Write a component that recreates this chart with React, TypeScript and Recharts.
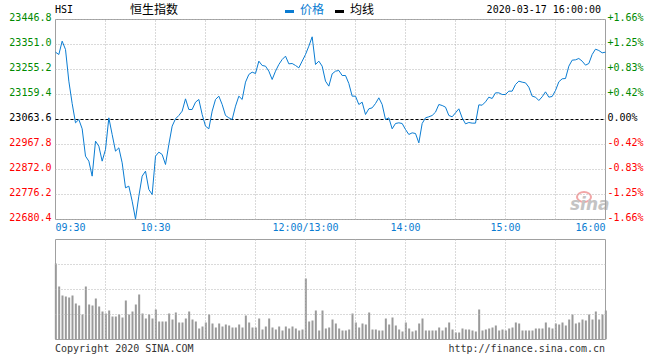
import React from "react"
import {
  ComposedChart,
  Line,
  BarChart,
  Bar,
  XAxis,
  YAxis,
  ReferenceLine,
  ReferenceArea,
} from "recharts"

// HSI intraday, 2020-03-17, sampled every 2 minutes (index 0..330 = 09:30..12:00 + 13:00..16:00)
const price = [
  23321.6, 23312.7, 23363.8, 23331.9, 23210.5, 23124.9, 23050.9, 23063.6, 23027.9, 22923.1,
  22904.0, 22846.5, 22980.6, 22961.4, 22904.0, 22948.7, 23070.0, 23006.0, 22942.3, 22955.0,
  22897.6, 22801.8, 22808.2, 22750.7, 22682.0, 22769.9, 22846.5, 22865.6, 22795.4, 22776.2,
  22923.1, 22938.5, 22929.5, 22891.2, 22967.8, 23038.1, 23066.2, 23079.0, 23095.6, 23142.8,
  23102.0, 23102.0, 23130.0, 23140.3, 23082.8, 23038.1, 23027.9, 23095.6, 23140.3, 23153.0,
  23121.1, 23079.0, 23070.0, 23063.6, 23114.7, 23153.0, 23140.3, 23206.7, 23236.1, 23245.0,
  23239.9, 23287.2, 23270.6, 23268.0, 23248.8, 23216.9, 23248.8, 23274.4, 23293.5, 23306.3,
  23276.9, 23278.2, 23270.6, 23261.6, 23287.2, 23312.7, 23344.6, 23380.4, 23274.4, 23287.2,
  23268.0, 23210.5, 23191.4, 23238.6, 23248.8, 23251.4, 23232.2, 23232.2, 23201.6, 23153.0,
  23153.0, 23121.1, 23130.0, 23082.8, 23104.5, 23108.3, 23124.9, 23146.7, 23121.1, 23063.6,
  23070.0, 23027.9, 23048.3, 23050.9, 23048.3, 23025.3, 23006.2, 23012.5, 23010.0, 22974.2,
  23048.3, 23070.0, 23073.9, 23079.0, 23091.7, 23121.1, 23117.3, 23110.9, 23079.0, 23073.9,
  23089.2, 23104.5, 23070.0, 23047.0, 23052.0, 23049.6, 23049.6, 23119.8, 23118.5, 23131.3,
  23149.2, 23144.1, 23165.8, 23165.8, 23159.4, 23159.4, 23172.2, 23172.2, 23197.7, 23210.5,
  23206.7, 23204.1, 23187.5, 23153.0, 23149.2, 23136.4, 23150.5, 23169.6, 23149.2, 23151.8,
  23174.8, 23208.0, 23219.5, 23220.7, 23268.0, 23291.0, 23292.3, 23297.4, 23287.2, 23271.8,
  23278.2, 23312.7, 23333.1, 23328.0, 23319.1, 23321.6,
]

// volume, relative units (100 = full panel height)
const volume = [
  76, 53, 44, 43, 42, 44, 36, 34, 25, 53,
  35, 34, 41, 33, 28, 26, 29, 23, 23, 25,
  22, 39, 25, 28, 35, 45, 26, 21, 25, 21,
  30, 18, 18, 18, 26, 20, 27, 17, 17, 21,
  28, 20, 18, 11, 13, 17, 25, 16, 12, 16,
  13, 15, 14, 12, 12, 15, 12, 24, 17, 12,
  12, 21, 10, 13, 21, 12, 10, 13, 9, 13,
  11, 13, 11, 9, 10, 61, 18, 19, 29, 9,
  29, 11, 12, 20, 16, 11, 9, 9, 10, 26,
  17, 12, 16, 15, 27, 10, 10, 9, 9, 21,
  15, 22, 14, 10, 8, 17, 11, 8, 9, 16,
  21, 9, 9, 9, 9, 12, 9, 12, 17, 10,
  7, 7, 11, 10, 10, 9, 8, 30, 9, 10,
  11, 12, 14, 9, 10, 9, 11, 12, 17, 16,
  9, 9, 9, 9, 11, 11, 11, 17, 12, 11,
  16, 15, 17, 14, 20, 25, 16, 17, 20, 19,
  25, 20, 28, 20, 25, 29,
]

const prevClose = 23063.6
const priceTicks = [22680.4, 22776.2, 22872.0, 22967.8, 23063.6, 23159.4, 23255.2, 23351.0, 23446.8]
const pctLabels = ["-1.66%", "-1.25%", "-0.83%", "-0.42%", "0.00%", "+0.42%", "+0.83%", "+1.25%", "+1.66%"]
const timeTicks = [0, 60, 150, 210, 270, 330]
const timeLabels = ["09:30", "10:30", "12:00/13:00", "14:00", "15:00", "16:00"]
const gridTimes = [30, 60, 90, 120, 150, 180, 210, 240, 270, 300]
const volumeGrid = [25, 50, 75]

const MONO = "'DejaVu Sans Mono', 'Liberation Mono', monospace"
const CJK = "'Noto Sans CJK SC', 'Noto Sans', sans-serif"
const BLUE = "#0a7cd2"
const GREEN = "#008a00"
const RED = "#ff0000"
const GRID = "#b4b4b4"
const BORDER = "#a0a0a0"

const priceData = price.map((p, i) => ({ t: i * 2, price: p }))
const volumeData = volume.map((v, i) => ({ t: i * 2, vol: v }))

function colorFor(v: number) {
  if (v > prevClose + 0.05) return GREEN
  if (v < prevClose - 0.05) return RED
  return "#000"
}

function LeftTick(props: any) {
  const { x, y, payload } = props
  return (
    <text x={x} y={y + 1} textAnchor="end" fill={colorFor(payload.value)} fontSize={10} fontFamily={MONO}>
      {payload.value.toFixed(1)}
    </text>
  )
}

function RightTick(props: any) {
  const { x, y, payload, index } = props
  return (
    <text x={x} y={y + 1} textAnchor="start" fill={colorFor(payload.value)} fontSize={10} fontFamily={MONO}>
      {pctLabels[index]}
    </text>
  )
}

function TimeTick(props: any) {
  const { x, y, index } = props
  const anchor = index === 0 ? "start" : index === timeTicks.length - 1 ? "end" : "middle"
  return (
    <text x={x} y={y + 11} textAnchor={anchor} fill={BLUE} fontSize={10} fontFamily={MONO}>
      {timeLabels[index]}
    </text>
  )
}

export default function App() {
  return (
    <div style={{ position: "absolute", left: 0, top: 0, width: 660, height: 360, overflow: "hidden", background: "#fff" }}>
      <svg width={660} height={360} style={{ position: "absolute", left: 0, top: 0 }}>
        <text x={55} y={13} fontSize={10} fontFamily={MONO} fill="#000">HSI</text>
        <text x={130} y={14} fontSize={12} fontFamily={CJK} fill="#000">恒生指数</text>
        <rect x={285} y={10} width={9} height={3} fill={BLUE} />
        <text x={300} y={14} fontSize={12} fontFamily={CJK} fill={BLUE}>价格</text>
        <rect x={335} y={10} width={9} height={3} fill="#000" />
        <text x={350} y={14} fontSize={12} fontFamily={CJK} fill="#000">均线</text>
        <text x={601} y={13} textAnchor="end" fontSize={10} fontFamily={MONO} fill="#000">2020-03-17 16:00:00</text>
        <ellipse cx={584} cy={197} rx={7} ry={5} fill="none" stroke="#f2a6a6" strokeWidth={2} />
        <text x={570} y={210} fontSize={17} fontWeight="bold" fontStyle="italic" fontFamily="'DejaVu Sans', sans-serif" fill="#c4c4c4">sina</text>
        <text x={55} y={352} fontSize={10} fontFamily={MONO} fill="#333">Copyright 2020 SINA.COM</text>
        <text x={605} y={352} textAnchor="end" fontSize={10} fontFamily={MONO} fill="#333">http://finance.sina.com.cn</text>
      </svg>

      <div style={{ position: "absolute", left: 0, top: 0 }}>
        <ComposedChart width={661} height={240} data={priceData} margin={{ top: 19.5, right: 0.5, left: 0.5, bottom: 0.5 }}>
          <XAxis
            dataKey="t"
            type="number"
            domain={[0, 330]}
            ticks={timeTicks}
            interval={0}
            axisLine={false}
            tickLine={false}
            tickSize={0}
            tickMargin={0}
            height={20}
            tick={<TimeTick />}
          />
          <YAxis
            yAxisId="left"
            domain={[22680.4, 23446.8]}
            ticks={priceTicks}
            interval={0}
            axisLine={false}
            tickLine={false}
            tickSize={0}
            tickMargin={4}
            width={55}
            tick={<LeftTick />}
            allowDataOverflow
          />
          <YAxis
            yAxisId="right"
            orientation="right"
            domain={[22680.4, 23446.8]}
            ticks={priceTicks}
            interval={0}
            axisLine={false}
            tickLine={false}
            tickSize={0}
            tickMargin={2}
            width={55}
            tick={<RightTick />}
            allowDataOverflow
          />
          {priceTicks.map((v) => (
            <ReferenceLine key={`h-${v}`} yAxisId="left" y={v} stroke={GRID} strokeDasharray="1 2" />
          ))}
          {gridTimes.map((t) => (
            <ReferenceLine key={`v-${t}`} yAxisId="left" x={t} stroke={GRID} strokeDasharray="1 2" />
          ))}
          <ReferenceLine yAxisId="left" y={prevClose} stroke="#000" strokeDasharray="3 2" />
          <ReferenceArea yAxisId="left" x1={0} x2={330} y1={22680.4} y2={23446.8} fill="none" stroke={BORDER} strokeWidth={1} />
          <Line
            yAxisId="left"
            dataKey="price"
            type="linear"
            stroke={BLUE}
            strokeWidth={1}
            dot={false}
            isAnimationActive={false}
          />
        </ComposedChart>
      </div>

      <div style={{ position: "absolute", left: 0, top: 238 }}>
        <BarChart width={661} height={103} data={volumeData} margin={{ top: 1.5, right: 55.5, left: 55.5, bottom: 1.5 }}>
          <XAxis dataKey="t" type="number" domain={[0, 330]} hide />
          <YAxis domain={[0, 100]} hide allowDataOverflow />
          {volumeGrid.map((v) => (
            <ReferenceLine key={`vh-${v}`} y={v} stroke={GRID} strokeDasharray="1 2" />
          ))}
          {gridTimes.map((t) => (
            <ReferenceLine key={`vv-${t}`} x={t} stroke={GRID} strokeDasharray="1 2" />
          ))}
          <Bar dataKey="vol" fill="#9a9a9a" barSize={2} isAnimationActive={false} />
          <ReferenceArea x1={0} x2={330} y1={0} y2={100} fill="none" stroke={BORDER} strokeWidth={1} />
        </BarChart>
      </div>
    </div>
  )
}
